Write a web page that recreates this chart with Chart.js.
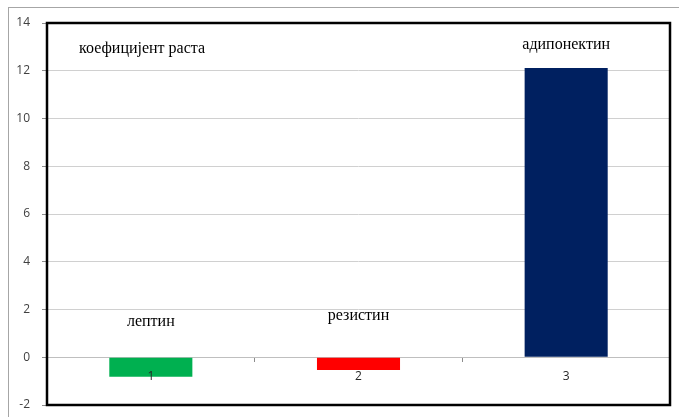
<!DOCTYPE html>
<html>
<head>
<meta charset="utf-8">
<script src="https://cdn.jsdelivr.net/npm/chart.js@4.4.1/dist/chart.umd.min.js"></script>
<style>
  body { margin: 0; background: #fff; overflow: hidden; }
</style>
</head>
<body>
<canvas id="growthChart" width="679" height="417"></canvas>
<script>
// Chart data
const categories = ['1', '2', '3'];
const values = [-0.82, -0.53, 12.12];
const barColors = ['#00B050', '#FF0000', '#002060'];
const barNames = ['лептин', 'резистин', 'адипонектин'];
const nameLevels = [1.5, 1.75, 13.1];
const yTicks = [-2, 0, 2, 4, 6, 8, 10, 12, 14];
const titleText = 'коефицијент раста';
const titleLevel = 12.9;

// Frame + serif labels drawn on top of the chart
const framePlugin = {
    id: 'frame',
    beforeDraw(chart) {
        const ctx = chart.ctx;
        ctx.save();
        ctx.strokeStyle = '#a6a6a6';
        ctx.lineWidth = 1;
        ctx.strokeRect(8.5, 7.5, chart.width + 5, chart.height + 5);
        ctx.restore();
    },
    afterDraw(chart) {
        const ctx = chart.ctx;
        const area = chart.chartArea;
        const xs = chart.scales.x;
        const ys = chart.scales.y;
        ctx.save();
        ctx.strokeStyle = '#000';
        ctx.lineWidth = 2.5;
        ctx.strokeRect(area.left, area.top, area.right - area.left, area.bottom - area.top);

        ctx.fillStyle = '#000';
        ctx.font = '16px "Liberation Serif", "Times New Roman", serif';
        ctx.textAlign = 'center';
        ctx.textBaseline = 'middle';
        barNames.forEach((name, i) => {
            ctx.fillText(name, xs.getPixelForValue(i), ys.getPixelForValue(nameLevels[i]));
        });
        ctx.textAlign = 'left';
        ctx.fillText(titleText, area.left + 32, ys.getPixelForValue(titleLevel));
        ctx.restore();
    }
};

const ctx = document.getElementById('growthChart').getContext('2d');
new Chart(ctx, {
    type: 'bar',
    data: {
        labels: categories,
        datasets: [{
            data: values,
            backgroundColor: barColors,
            borderWidth: 0,
            categoryPercentage: 1,
            barPercentage: 0.4
        }]
    },
    options: {
        responsive: false,
        animation: false,
        layout: {
            padding: { left: 8, top: 23, right: 9, bottom: 12 }
        },
        plugins: {
            legend: { display: false },
            tooltip: { enabled: false }
        },
        scales: {
            x: {
                position: { y: 0 },
                grid: {
                    offset: true,
                    drawOnChartArea: false,
                    drawTicks: true,
                    tickLength: 4,
                    color: '#8c8c8c'
                },
                border: { display: true, color: '#bfbfbf', width: 1 },
                ticks: {
                    z: 1,
                    color: '#262626',
                    padding: 8,
                    font: { family: '"Open Sans", "Liberation Sans", sans-serif', size: 12 }
                }
            },
            y: {
                min: -2,
                max: 14,
                afterBuildTicks: (scale) => {
                    scale.ticks = yTicks.map(v => ({ value: v }));
                },
                afterFit: (scale) => {
                    scale.width = 39;
                    scale.paddingTop = 0;
                    scale.paddingBottom = 0;
                },
                grid: {
                    color: '#d0d0d0',
                    tickLength: 5,
                    tickColor: '#8c8c8c'
                },
                border: { display: false },
                ticks: {
                    color: '#404040',
                    padding: 12,
                    font: { family: '"Open Sans", "Liberation Sans", sans-serif', size: 12 }
                }
            }
        }
    },
    plugins: [framePlugin]
});
</script>
</body>
</html>
